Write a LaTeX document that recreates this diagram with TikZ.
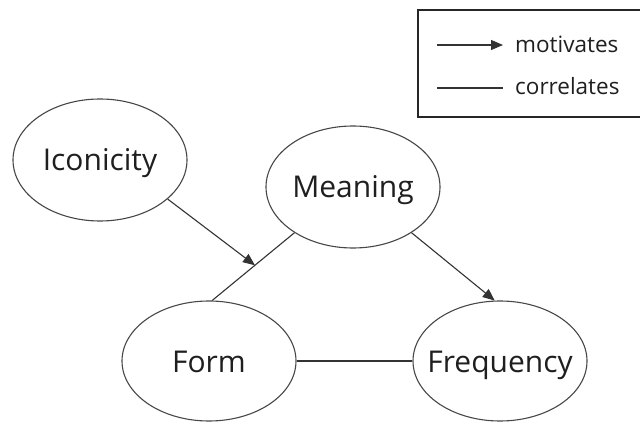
\documentclass[tikz,border=0pt]{standalone}
\usepackage{fontspec}
\setmainfont{Open Sans}
\usetikzlibrary{shapes.geometric,arrows.meta}
\newcommand{\elltext}[1]{\raisebox{-11pt}[0pt][0pt]{\makebox[0pt]{#1}}}
\begin{document}
\begin{tikzpicture}[x=1pt,y=-1pt,
  ell/.style={ellipse, draw=black!72, line width=1.1pt, minimum width=174pt, minimum height=122pt, inner sep=0pt, text=black!88, font=\fontsize{30}{36}\selectfont},
  conn/.style={draw=black!80, line width=1.1pt},
  tip/.style={-{Triangle[length=12pt,width=10pt]}},
  legtxt/.style={anchor=base west, inner sep=0pt, text=black!88, font=\fontsize{22.5}{27}\selectfont}]
\useasboundingbox (0,0) rectangle (640,422);
\fill[white] (0,0) rectangle (640,422);
% nodes
\node[ell] (icon) at (100,160) {\elltext{Iconicity}};
\node[ell] (meaning) at (353,187) {\elltext{Meaning}};
\node[ell, minimum height=120pt] (form) at (209,361) {\elltext{Form}};
\node[ell, minimum height=120pt] (freq) at (500,361) {\elltext{Frequency}};
% connectors
\draw[conn] (meaning.218) -- coordinate[pos=0.48] (hit) (form.87);
\draw[conn,tip] (icon.330) -- (hit);
\draw[conn,tip] (meaning.322) -- (freq.95);
\draw[conn] (form) -- (freq);
% legend (right edge runs past the picture)
\node[draw=black!85, line width=1.1pt, minimum width=230pt, minimum height=107pt, inner sep=0pt] (legend) at (533,63.5) {};
\coordinate (m1) at (437,45);
\coordinate (m2) at (503,45);
\coordinate (c1) at (437,88);
\coordinate (c2) at (503,88);
\draw[conn,tip] (m1) -- (m2);
\draw[conn] (c1) -- (c2);
\node[legtxt] (mot) at (515,53) {motivates};
\node[legtxt] (cor) at (515,95) {correlates};
\end{tikzpicture}
\end{document}
